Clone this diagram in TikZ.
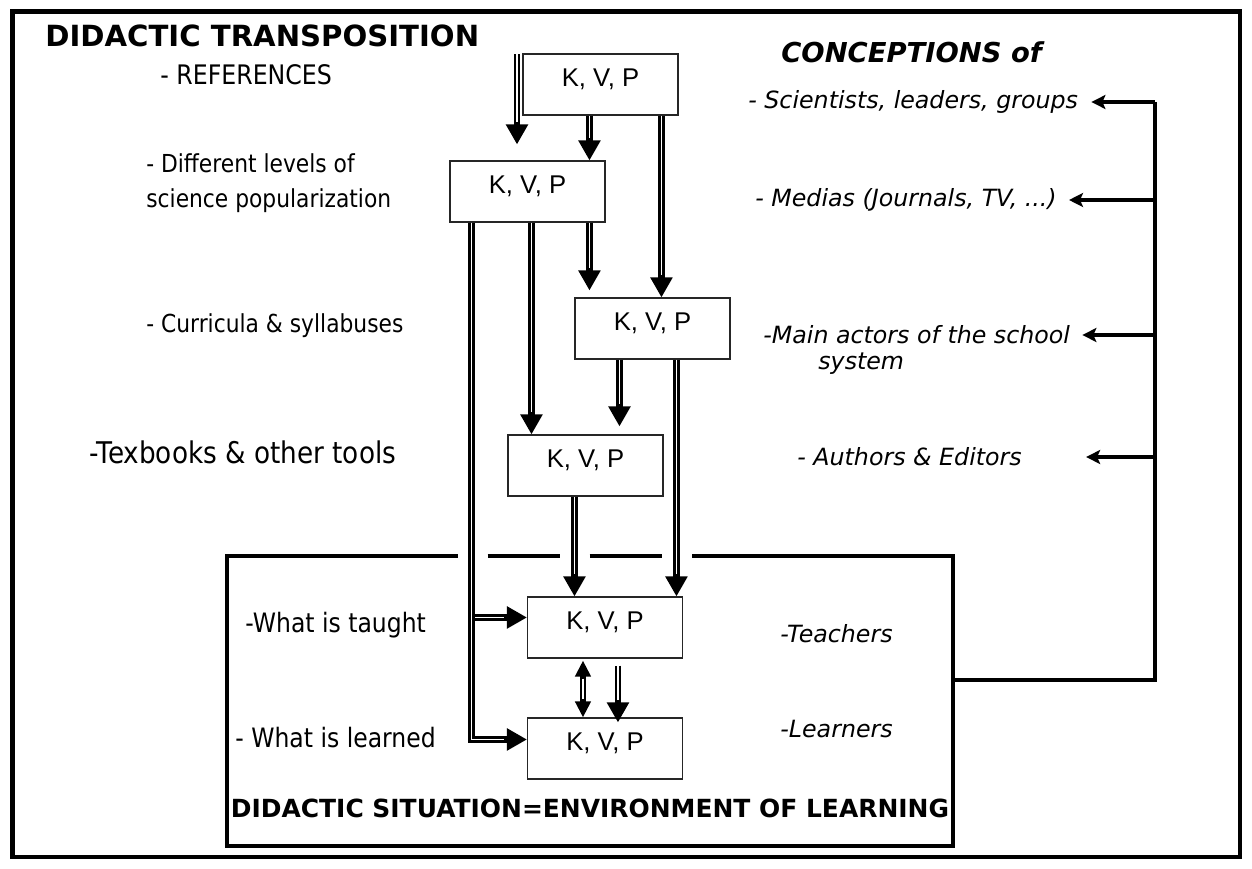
\documentclass[tikz,border=0pt]{standalone}
\usepackage{fontspec}
\setmainfont{DejaVu Sans}
\newfontfamily\kvpfont{Liberation Sans}
\newfontfamily\labelfont{DejaVu Sans}[FakeStretch=0.88]
\usetikzlibrary{arrows.meta}

\tikzset{
  kvp/.style={draw=black!85, line width=0.6pt, minimum width=3.1cm,
    inner xsep=0pt, inner ysep=0.1cm, text height=0.55cm, text depth=0.47cm,
    font=\kvpfont\fontsize{14.6}{17}\selectfont},
  flow/.style={line width=3.8pt, -{Triangle[length=0.4cm,width=0.42cm]},
    postaction={draw=white, line width=0.7pt, -, shorten >=0.45cm}},
  swap/.style={line width=3.4pt,
    {Triangle[length=0.32cm,width=0.3cm]}-{Triangle[length=0.32cm,width=0.3cm]},
    postaction={draw=white, line width=0.6pt, -, shorten >=0.36cm, shorten <=0.36cm}},
  feed/.style={line width=2.4pt, -{Stealth[length=0.28cm,width=0.28cm,inset=0.06cm]}},
  bus/.style={line width=2.6pt},
  frame/.style={line width=2.4pt},
  lbl/.style={anchor=west, inner sep=0pt, font=\labelfont\fontsize{14.8}{18}\selectfont},
  actor/.style={anchor=west, inner sep=0pt, font=\itshape\fontsize{13.5}{16}\selectfont},
  heading/.style={anchor=west, inner sep=0pt, font=\bfseries\fontsize{16.6}{20}\selectfont}
}

\begin{document}
\begin{tikzpicture}[x=0.02cm, y=-0.02cm]
  \useasboundingbox (0,0) rectangle (1252,869);
  \draw[line width=2.3pt] (12.5,11.5) rectangle (1240,857);

  % the K, V, P boxes
  \node[kvp] (kvpA) at (600.5,84.5) {K, V, P};
  \node[kvp] (kvpB) at (527.5,191.5) {K, V, P};
  \node[kvp] (kvpC) at (652.5,328.5) {K, V, P};
  \node[kvp] (kvpD) at (585.5,465.5) {K, V, P};
  \node[kvp] (kvpE) at (605,627.5) {K, V, P};
  \node[kvp] (kvpF) at (605,748.5) {K, V, P};

  % didactic situation
  \node[minimum width=14.52cm, minimum height=5.8cm, inner sep=0pt] (sit) at (590,701) {};
  \draw[frame] ([xshift=4.62cm]sit.north west) -- (sit.north west) -- (sit.south west)
    -- (sit.south east) -- (sit.north east) -- ([xshift=-5.22cm]sit.north east);
  \draw[frame] ([xshift=5.22cm]sit.north west) -- ++(1.44cm,0);
  \draw[frame] ([xshift=7.26cm]sit.north west) -- ++(1.44cm,0);
  \node[inner sep=0pt, font=\bfseries\fontsize{14.2}{17}\selectfont] (sitname)
    at ([yshift=0.76cm]sit.south) {DIDACTIC SITUATION=ENVIRONMENT OF LEARNING};

  % transposition arrows
  \coordinate (src) at (517,54);
  \draw[flow] (src) -- ([yshift=0.32cm]src |- kvpB.north);
  \draw[flow] ([xshift=1.34cm]kvpA.south west) -- ([xshift=1.34cm]kvpA.south west |- kvpB.north);
  \draw[flow] ([xshift=2.78cm]kvpA.south west) -- ([xshift=2.78cm]kvpA.south west |- kvpC.north);
  \draw[flow] ([xshift=0.44cm]kvpB.south west) |- ([yshift=-0.42cm]kvpE.north west);
  \draw[flow] ([xshift=0.44cm]kvpB.south west) |- ([yshift=-0.44cm]kvpF.north west);
  \draw[flow] ([xshift=1.64cm]kvpB.south west) -- ([xshift=1.64cm]kvpB.south west |- kvpD.north);
  \draw[flow] ([xshift=2.8cm]kvpB.south west) -- ([xshift=2.8cm,yshift=0.14cm]kvpB.south west |- kvpC.north);
  \draw[flow] ([xshift=0.9cm]kvpC.south west) -- ([xshift=0.9cm,yshift=0.16cm]kvpC.south west |- kvpD.north);
  \draw[flow] ([xshift=2.04cm]kvpC.south west) -- ([xshift=2.04cm]kvpC.south west |- kvpE.north);
  \draw[flow] ([xshift=1.34cm]kvpD.south west) -- ([xshift=1.34cm]kvpD.south west |- kvpE.north);
  \draw[swap] ([xshift=1.12cm,yshift=-0.04cm]kvpE.south west) -- ([xshift=1.12cm]kvpE.south west |- kvpF.north);
  \draw[flow] ([xshift=1.82cm,yshift=-0.14cm]kvpE.south west) -- ([xshift=1.82cm,yshift=-0.1cm]kvpE.south west |- kvpF.north);

  % left column
  \node[heading] (ttl) at (45,36) {DIDACTIC TRANSPOSITION};
  \node[lbl, font=\labelfont\fontsize{15.3}{18}\selectfont] (refs) at (160,75) {- REFERENCES};
  \node[lbl, align=left, font=\labelfont\fontsize{14.1}{19.9}\selectfont] (popu) at (146,183)
    {- Different levels of\\science popularization};
  \node[lbl, font=\labelfont\fontsize{14.1}{17}\selectfont] (curr) at (146,326) {- Curricula \& syllabuses};
  \node[lbl, font=\labelfont\fontsize{17}{20}\selectfont] (tools) at (89,452) {-Texbooks \& other tools};
  \node[lbl, font=\labelfont\fontsize{15.2}{18}\selectfont] (taught) at (245,625) {-What is taught};
  \node[lbl, font=\labelfont\fontsize{15.2}{18}\selectfont] (learned) at (235,738) {- What is learned};

  % right column
  \node[heading, font=\bfseries\itshape\fontsize{15.6}{19}\selectfont] (conc) at (781,52) {CONCEPTIONS of};
  \node[actor] (sci) at (748,102) {- Scientists, leaders, groups};
  \node[actor] (med) at (755,200) {- Medias (Journals, TV, ...)};
  \node[actor] (act) at (763,335) {-Main actors of the school};
  \node[actor] (actb) at (818,364) {system};
  \node[actor] (auth) at (797,457) {- Authors \& Editors};
  \node[actor] (teach) at (780,634) {-Teachers};
  \node[actor] (learn) at (780,729) {-Learners};

  % feedback to the conceptions
  \coordinate (busX) at (1155,0);
  \draw[bus] ([yshift=0.42cm]sit.east) -| (sci.east -| busX);
  \draw[feed, shorten >=0.26cm] (sci.east -| busX) -- (sci.east);
  \draw[feed, shorten >=0.24cm] (med.east -| busX) -- (med.east);
  \draw[feed, shorten >=0.24cm] (act.east -| busX) -- (act.east);
  \draw[feed, shorten >=1.28cm] (auth.east -| busX) -- (auth.east);
\end{tikzpicture}
\end{document}
